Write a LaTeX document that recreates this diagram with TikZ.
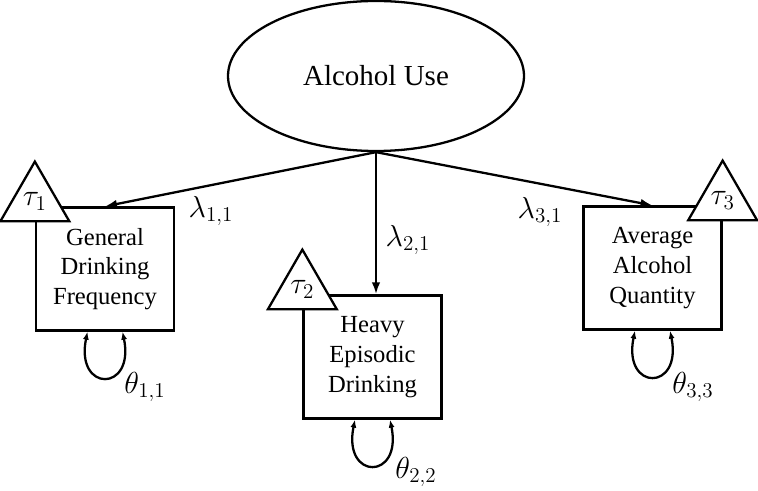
\documentclass[tikz,border=0pt]{standalone}
\usepackage{fontspec}
\setmainfont{Liberation Serif}
\usepackage{amsmath}
\usetikzlibrary{shapes.geometric,arrows.meta,positioning}

\begin{document}
\begin{tikzpicture}[
    line width=1.3pt,
    latent/.style={ellipse, draw, minimum width=5.92cm, minimum height=3cm, font=\fontsize{16.5}{20}\selectfont},
    indicator/.style={rectangle, draw, minimum width=2.76cm, minimum height=2.46cm, align=center, font=\fontsize{14}{17}\selectfont},
    intercept/.style={regular polygon, regular polygon sides=3, draw, fill=white, minimum size=1.59cm, inner sep=0pt, font=\fontsize{16.5}{20}\selectfont},
    param/.style={font=\fontsize{16.5}{20}\selectfont, inner sep=1pt},
    edge/.style={-{Latex[length=2.4mm,width=1.7mm]}},
    resid/.style={{Latex[length=1.6mm,width=1.2mm]}-{Latex[length=1.6mm,width=1.2mm]}}
]
    \useasboundingbox (0,0) rectangle (15.16,-9.82);

    \node[latent] (use) at (7.52,-1.52) {Alcohol Use};
    \node[indicator] (freq) at (2.1,-5.38) {General\\Drinking\\Frequency};
    \node[indicator] (heavy) at (7.45,-7.14) {Heavy\\Episodic\\Drinking};
    \node[indicator] (quant) at (13.05,-5.36) {Average\\Alcohol\\Quantity};

    % intercepts
    \node[intercept, anchor=side 2] (tau1) at ([yshift=-0.32cm]freq.north west) {$\tau_1$};
    \node[intercept, anchor=side 2] (tau2) at ([yshift=-0.32cm]heavy.north west) {$\tau_2$};
    \node[intercept, anchor=side 2] (tau3) at ([yshift=-0.32cm]quant.north east) {$\tau_3$};

    % loadings
    \draw[edge] (use.south) -- (freq.north);
    \draw[edge] (use.south) -- (use.south |- heavy.north);
    \draw[edge] (use.south) -- (quant.north);

    \node[param] (lam11) at (4.22,-4.22) {$\lambda_{1,1}$};
    \node[param] (lam21) at (8.16,-4.8) {$\lambda_{2,1}$};
    \node[param] (lam31) at (10.8,-4.24) {$\lambda_{3,1}$};

    % residual variances
    \draw[resid] ([xshift=-0.35cm]freq.south) .. controls +(-0.25,-1.22) and +(0.25,-1.22) .. ([xshift=0.35cm]freq.south);
    \draw[resid] ([xshift=-0.35cm]heavy.south) .. controls +(-0.25,-1.22) and +(0.25,-1.22) .. ([xshift=0.35cm]heavy.south);
    \draw[resid] ([xshift=-0.35cm]quant.south) .. controls +(-0.25,-1.22) and +(0.25,-1.22) .. ([xshift=0.35cm]quant.south);

    \node[param] (th11) at (2.9,-7.74) {$\theta_{1,1}$};
    \node[param] (th22) at (8.32,-9.44) {$\theta_{2,2}$};
    \node[param] (th33) at (13.86,-7.74) {$\theta_{3,3}$};
\end{tikzpicture}
\end{document}
